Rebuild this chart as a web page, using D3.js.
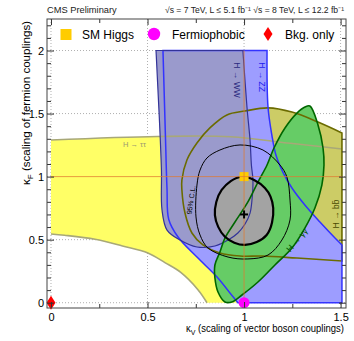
<!DOCTYPE html>
<html><head><meta charset="utf-8">
<script src="https://cdn.jsdelivr.net/npm/d3@7"></script>
<style>
body{margin:0;background:#fff}
svg{display:block}
text{font-family:"Liberation Sans",Arial,Helvetica,sans-serif}
</style>
</head><body>
<svg id="chart" width="354" height="341"></svg>
<script>
// ---------- data (kV, kF) ----------
const xMajorTicks = [0, 0.5, 1, 1.5];
const xMinorTicks = [0.25, 0.75, 1.25];
const yMajorTicks = [0, 0.5, 1, 1.5, 2];
const legendLabels = ["SM Higgs", "Fermiophobic", "Bkg. only"];
const smPoint = [1, 1];
const fermiophobicPoint = [1, 0];
const bkgOnlyPoint = [0, 0];
const bestFit = [1.0, 0.70];

const tautauRuns = [
  [[0,1.290],[0.55,1.318],[0.93,1.316],[1.24,1.264],[1.507,1.219]],
  [[1.507,0]],
  [[0.808,0],[0.760,0.105],[0.672,0.24],[0.59,0.318],[0.502,0.394],[0.37,0.45],[0.228,0.503],[0.07,0.535],[0,0.545]]
];
const bbRuns = [
  [[1.507,1.346],[1.383,1.433],[1.248,1.512],[1.124,1.545],[1.005,1.520],[0.911,1.489],[0.823,1.386],[0.756,1.267],[0.704,1.132],[0.678,0.973],[0.678,0.894],[0.694,0.711],[0.730,0.553],[0.787,0.458],[0.875,0.394],[0.979,0.370],[1.098,0.370],[1.274,0.354],[1.507,0.331]]
];
const zzRuns = [
  [[0.580,2.0]],
  [[1.119,2.0],[1.124,1.552],[1.144,1.330],[1.165,1.171],[1.201,1.036],[1.248,0.910],[1.315,0.775],[1.393,0.640],[1.471,0.513],[1.507,0.458]],
  [[1.507,0]],
  [[0.968,0],[0.927,0.077],[0.860,0.204],[0.756,0.362],[0.658,0.521],[0.610,0.660],[0.601,0.90],[0.595,1.2]]
];
const wwRuns = [
  [[0.544,2.0]],
  [[0.994,2.0],[1.015,1.552],[1.031,1.290],[1.038,1.092],[1.046,0.973],[1.041,0.814],[1.031,0.711],[1.005,0.624],[0.968,0.553],[0.917,0.497],[0.849,0.450],[0.756,0.442],[0.668,0.497],[0.601,0.576],[0.575,0.735],[0.572,1.052],[0.560,1.5]]
];
const ggContour = [[1.341,1.560],[1.383,1.410],[1.409,1.227],[1.414,1.092],[1.403,0.933],[1.367,0.751],[1.315,0.592],[1.248,0.434],[1.160,0.299],[1.072,0.164],[0.989,0.061],[0.937,0.006],[0.901,0.006],[0.865,0.085],[0.849,0.196],[0.849,0.299],[0.875,0.402],[0.901,0.513],[0.953,0.640],[1.020,0.799],[1.072,0.957],[1.119,1.092],[1.155,1.227],[1.212,1.386],[1.274,1.504],[1.315,1.552]];
const combined68 = [[0.988,0.999],[1.108,0.910],[1.151,0.751],[1.117,0.537],[1.005,0.458],[0.901,0.523],[0.849,0.695],[0.884,0.894]];
const combined95 = [[0.979,1.251],[1.098,1.211],[1.186,1.092],[1.222,0.997],[1.238,0.814],[1.238,0.656],[1.196,0.497],[1.124,0.378],[1.020,0.347],[0.917,0.362],[0.813,0.434],[0.772,0.537],[0.751,0.680],[0.756,0.933],[0.772,1.052],[0.808,1.148],[0.875,1.211]];

// ---------- layout ----------
const L = 47, R = 346, T = 19, B = 308;
const x = d3.scaleLinear().domain([-0.0207, 1.528]).range([L, R]);
const y = d3.scaleLinear().domain([-0.042, 2.25]).range([B, T]);
const svg = d3.select("#chart");

const smooth = d3.line().x(d => x(d[0])).y(d => y(d[1])).curve(d3.curveCatmullRom.alpha(0.5));
const smoothClosed = d3.line().x(d => x(d[0])).y(d => y(d[1])).curve(d3.curveCatmullRomClosed.alpha(0.5));
function runsPath(runs) {
  let s = "";
  runs.forEach((run, i) => {
    let p = run.length > 1 ? smooth(run) : `M${x(run[0][0])},${y(run[0][1])}`;
    if (i > 0) p = "L" + p.slice(1);
    s += p;
  });
  return s + "Z";
}

svg.append("defs").append("clipPath").attr("id", "clip")
  .append("rect").attr("x", L).attr("y", T).attr("width", R - L).attr("height", B - T);

// grid
const grid = svg.append("g").attr("stroke", "#9a9a9a").attr("stroke-width", 0.8).attr("stroke-dasharray", "1,2");
xMajorTicks.forEach(v => grid.append("line").attr("x1", x(v)).attr("x2", x(v)).attr("y1", T).attr("y2", B));
yMajorTicks.forEach(v => grid.append("line").attr("y1", y(v)).attr("y2", y(v)).attr("x1", L).attr("x2", R));

const plot = svg.append("g").attr("clip-path", "url(#clip)");

// fills
plot.append("path").attr("d", runsPath(tautauRuns)).attr("fill", "#ffff66");
plot.append("path").attr("d", runsPath(bbRuns)).attr("fill", "#cccc66");
plot.append("path").attr("d", runsPath(zzRuns)).attr("fill", "#9d9dff");
plot.append("path").attr("d", runsPath(wwRuns)).attr("fill", "#9a9acc");
plot.append("path").attr("d", smoothClosed(ggContour)).attr("fill", "#66cc66");
plot.append("path").attr("d", smoothClosed(combined68)).attr("fill", "#a3a3a3");

// outlines
plot.append("path").attr("d", smooth(tautauRuns[0])).attr("fill", "none").attr("stroke", "#a8a878").attr("stroke-width", 1.6);
plot.append("path").attr("d", smooth(tautauRuns[2])).attr("fill", "none").attr("stroke", "#a8a878").attr("stroke-width", 1.6);
plot.append("path").attr("d", runsPath(bbRuns)).attr("fill", "none").attr("stroke", "#6b6b00").attr("stroke-width", 1.6);
plot.append("path").attr("d", runsPath(zzRuns)).attr("fill", "none").attr("stroke", "#3333ff").attr("stroke-width", 1.5);
plot.append("path").attr("d", runsPath(wwRuns)).attr("fill", "none").attr("stroke", "#333399").attr("stroke-width", 1.2);
plot.append("path").attr("d", smoothClosed(ggContour)).attr("fill", "none").attr("stroke", "#006600").attr("stroke-width", 1.6);
plot.append("path").attr("d", smoothClosed(combined95)).attr("fill", "none").attr("stroke", "#000").attr("stroke-width", 1);
plot.append("path").attr("d", smoothClosed(combined68)).attr("fill", "none").attr("stroke", "#000").attr("stroke-width", 2.2);

// SM lines
const smg = svg.append("g").attr("stroke", "#e07a30").attr("stroke-opacity", 0.75).attr("stroke-width", 1);
smg.append("line").attr("x1", x(0)).attr("x2", x(1.507)).attr("y1", y(smPoint[1])).attr("y2", y(smPoint[1]));
smg.append("line").attr("x1", x(smPoint[0])).attr("x2", x(smPoint[0])).attr("y1", y(0)).attr("y2", y(2));

// region labels
function lab(t, px, py, rot, size, color) {
  svg.append("text").attr("transform", `translate(${px},${py}) rotate(${rot})`)
    .attr("text-anchor", "middle").attr("dominant-baseline", "central")
    .attr("font-size", size).attr("fill", color).text(t);
}
svg.append("text").attr("x", 123).attr("y", 147).attr("font-size", 7.5).attr("fill", "#9a9a70").text("H → ττ");
lab("H → WW", 237, 80, 90, 8.5, "#2a2a80");
lab("H → ZZ", 262, 77, 90, 8.5, "#2222ee");
lab("H → bb̄", 336, 214, -90, 8.5, "#4a4a00");
lab("H → γγ", 297, 240, -50, 8.5, "#005500");
lab("95% C.L.", 191, 200, -82, 7, "#000");

// markers
const bf = svg.append("g").attr("stroke", "#000").attr("stroke-width", 2);
bf.append("line").attr("x1", x(bestFit[0]) - 4).attr("x2", x(bestFit[0]) + 4).attr("y1", y(bestFit[1])).attr("y2", y(bestFit[1]));
bf.append("line").attr("x1", x(bestFit[0])).attr("x2", x(bestFit[0])).attr("y1", y(bestFit[1]) - 4).attr("y2", y(bestFit[1]) + 4);
svg.append("rect").attr("x", x(smPoint[0]) - 4.5).attr("y", y(smPoint[1]) - 4.5).attr("width", 9).attr("height", 9).attr("fill", "#ffcc00");
svg.append("line").attr("x1", x(smPoint[0])).attr("x2", x(smPoint[0])).attr("y1", y(smPoint[1]) - 4.5).attr("y2", y(smPoint[1]) + 4.5).attr("stroke", "#e07a30").attr("stroke-opacity", 0.75);
svg.append("line").attr("x1", x(smPoint[0]) - 4.5).attr("x2", x(smPoint[0]) + 4.5).attr("y1", y(smPoint[1])).attr("y2", y(smPoint[1])).attr("stroke", "#e07a30").attr("stroke-opacity", 0.75);
svg.append("circle").attr("cx", x(fermiophobicPoint[0])).attr("cy", y(fermiophobicPoint[1])).attr("r", 5.5).attr("fill", "#ff00ff");
function diamond(cx, cy, w, h) { return `M${cx},${cy - h}L${cx + w},${cy}L${cx},${cy + h}L${cx - w},${cy}Z`; }
svg.append("path").attr("d", diamond(x(bkgOnlyPoint[0]), y(bkgOnlyPoint[1]), 4.5, 7)).attr("fill", "#ff0000");

// axes (ticks inside)
function styleAxis(g) { g.select(".domain").remove(); g.selectAll("line").attr("stroke", "#333"); g.selectAll("text").attr("font-size", 11).attr("fill", "#000").attr("font-family", '"Liberation Sans",Arial,sans-serif'); }
const fmt = d => String(d);
svg.append("g").attr("transform", `translate(0,${B})`).call(d3.axisBottom(x).tickValues(xMajorTicks).tickSizeInner(-6).tickSizeOuter(0).tickPadding(5).tickFormat(fmt)).call(styleAxis);
svg.append("g").attr("transform", `translate(0,${B})`).call(d3.axisBottom(x).tickValues(xMinorTicks).tickSizeInner(-4).tickSizeOuter(0).tickFormat("")).call(styleAxis);
svg.append("g").attr("transform", `translate(0,${T})`).call(d3.axisTop(x).tickValues(xMajorTicks).tickSizeInner(-6).tickSizeOuter(0).tickFormat("")).call(styleAxis);
svg.append("g").attr("transform", `translate(0,${T})`).call(d3.axisTop(x).tickValues(xMinorTicks).tickSizeInner(-4).tickSizeOuter(0).tickFormat("")).call(styleAxis);
const yMinor = d3.range(0, 23).map(i => +(i * 0.1).toFixed(1)).filter(v => !yMajorTicks.includes(v));
svg.append("g").attr("transform", `translate(${L},0)`).call(d3.axisLeft(y).tickValues(yMajorTicks).tickSizeInner(-7).tickSizeOuter(0).tickPadding(3).tickFormat(fmt)).call(styleAxis);
svg.append("g").attr("transform", `translate(${L},0)`).call(d3.axisLeft(y).tickValues(yMinor).tickSizeInner(-4).tickSizeOuter(0).tickFormat("")).call(styleAxis);
svg.append("g").attr("transform", `translate(${R},0)`).call(d3.axisRight(y).tickValues(yMajorTicks).tickSizeInner(-7).tickSizeOuter(0).tickFormat("")).call(styleAxis);
svg.append("g").attr("transform", `translate(${R},0)`).call(d3.axisRight(y).tickValues(yMinor).tickSizeInner(-4).tickSizeOuter(0).tickFormat("")).call(styleAxis);

// frame
svg.append("rect").attr("x", L).attr("y", T).attr("width", R - L).attr("height", B - T).attr("fill", "none").attr("stroke", "#444").attr("stroke-width", 1);

// legend
const lg = svg.append("g");
lg.append("rect").attr("x", 60.5).attr("y", 29).attr("width", 11).attr("height", 11).attr("fill", "#ffcc00");
lg.append("circle").attr("cx", 154).attr("cy", 34).attr("r", 6.2).attr("fill", "#ff00ff");
lg.append("path").attr("d", diamond(268, 34, 4.5, 7)).attr("fill", "#ff0000");
[82, 172, 285].forEach((px, i) => lg.append("text").attr("x", px).attr("y", 38.5).attr("font-size", 12).attr("fill", "#000").text(legendLabels[i]));

// header
svg.append("text").attr("x", 47).attr("y", 13).attr("font-size", 9.3).attr("fill", "#222").text("CMS Preliminary");
svg.append("text").attr("x", 344).attr("y", 13).attr("text-anchor", "end").attr("font-size", 8.6).attr("fill", "#222")
  .text("√s = 7 TeV, L ≤ 5.1 fb⁻¹  √s = 8 TeV, L ≤ 12.2 fb⁻¹");

// axis titles
const xt = svg.append("text").attr("x", 186).attr("y", 332).attr("font-size", 10.2).attr("fill", "#000")
  .attr("textLength", 158).attr("lengthAdjust", "spacingAndGlyphs");
xt.append("tspan").text("κ");
xt.append("tspan").attr("font-size", 7.5).attr("dy", 2.5).text("V");
xt.append("tspan").attr("dy", -2.5).text(" (scaling of vector boson couplings)");
const yt = svg.append("text").attr("transform", "translate(30,21) rotate(-90)").attr("text-anchor", "end").attr("font-size", 11.5).attr("fill", "#000")
  .attr("textLength", 164).attr("lengthAdjust", "spacingAndGlyphs");
yt.append("tspan").text("κ");
yt.append("tspan").attr("font-size", 8).attr("dy", 2.5).text("F");
yt.append("tspan").attr("dy", -2.5).text(" (scaling of fermion couplings)");
</script>
</body></html>
